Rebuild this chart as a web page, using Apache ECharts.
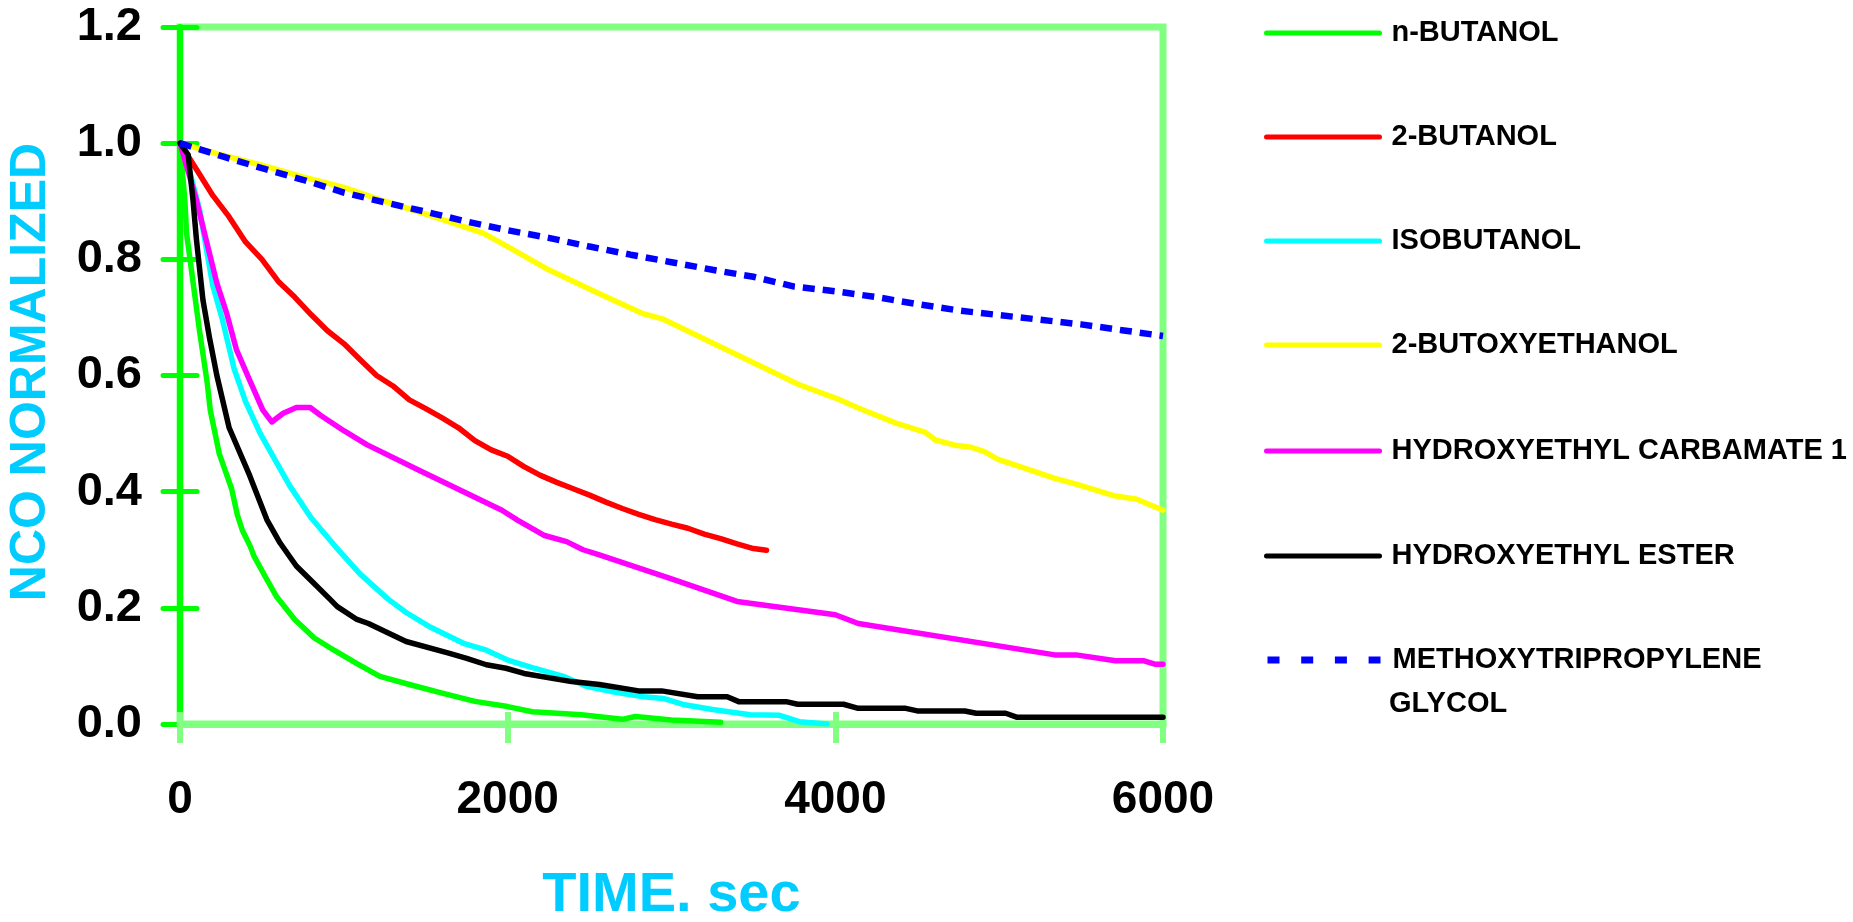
<!DOCTYPE html>
<html>
<head>
<meta charset="utf-8">
<script src="https://cdn.jsdelivr.net/npm/echarts@6.0.0/dist/echarts.min.js"></script>
<style>html,body{margin:0;padding:0;background:#fff}#c{width:1853px;height:922px}</style>
</head>
<body>
<div id="c"></div>
<script>
// ---- data ----
const seriesNames = ['n-BUTANOL','2-BUTANOL','ISOBUTANOL','2-BUTOXYETHANOL','HYDROXYETHYL CARBAMATE 1','HYDROXYETHYL ESTER','METHOXYTRIPROPYLENE GLYCOL'];
const seriesColors = ['#00ff00','#ff0000','#00ffff','#ffff00','#ff00ff','#000000','#0000ff'];

const nButanolT = [0,30,40,80,120,165,185,240,315,350,380,430,450,520,590,700,820,940,1080,1220,1400,1600,1800,2000,2150,2450,2700,2780,3000,3300];
const nButanolY = [1.0,0.9,0.845,0.76,0.675,0.59,0.54,0.465,0.405,0.36,0.334,0.305,0.29,0.254,0.219,0.18,0.148,0.127,0.104,0.082,0.068,0.053,0.039,0.03,0.021,0.016,0.008,0.013,0.007,0.003];

const butanol2T = [0,100,200,300,400,500,600,700,800,900,1000,1100,1200,1300,1400,1500,1600,1700,1800,1900,2000,2100,2200,2300,2400,2500,2600,2700,2800,2900,3000,3100,3200,3300,3400,3500,3580];
const butanol2Y = [1.0,0.955,0.91,0.873,0.83,0.8,0.762,0.735,0.705,0.677,0.655,0.627,0.6,0.582,0.558,0.543,0.527,0.51,0.488,0.472,0.461,0.443,0.428,0.416,0.405,0.394,0.382,0.371,0.361,0.352,0.344,0.337,0.327,0.319,0.31,0.302,0.299];

const isobutanolT = [0,60,120,200,260,330,400,490,600,670,800,950,1100,1270,1380,1520,1730,1870,2000,2150,2340,2480,2650,2830,2950,3080,3250,3480,3660,3780,3950];
const isobutanolY = [1.0,0.95,0.885,0.755,0.695,0.612,0.555,0.5,0.445,0.41,0.355,0.305,0.258,0.215,0.192,0.168,0.139,0.127,0.11,0.097,0.082,0.065,0.055,0.047,0.044,0.033,0.025,0.016,0.015,0.004,0.0];

const butoxyT = [0,250,500,750,1000,1250,1500,1650,1850,2000,2250,2550,2820,2950,3250,3500,3780,4030,4140,4370,4550,4610,4730,4820,4910,4990,5340,5470,5700,5840,6000];
const butoxyY = [1.0,0.98,0.962,0.942,0.924,0.9,0.878,0.864,0.845,0.822,0.782,0.742,0.707,0.697,0.656,0.622,0.584,0.558,0.544,0.518,0.502,0.489,0.48,0.477,0.469,0.456,0.423,0.413,0.393,0.387,0.368];

const carbamateT = [0,100,160,225,285,345,425,505,560,630,710,795,855,1000,1140,1465,1965,2060,2220,2360,2460,2560,3000,3400,4000,4140,5340,5470,5710,5880,5950,6000];
const carbamateY = [1.0,0.902,0.833,0.759,0.707,0.644,0.592,0.541,0.52,0.535,0.545,0.545,0.532,0.505,0.481,0.436,0.368,0.351,0.325,0.314,0.3,0.291,0.25,0.211,0.188,0.173,0.119,0.119,0.109,0.109,0.103,0.103];

const esterT = [0,50,80,100,140,180,225,300,425,530,610,710,800,915,960,1080,1150,1380,1640,1750,1870,1990,2100,2390,2560,2800,2940,3160,3340,3410,3700,3770,4050,4140,4430,4500,4790,4860,5040,5110,6000];
const esterY = [1.0,0.98,0.9,0.835,0.73,0.665,0.6,0.51,0.428,0.352,0.312,0.272,0.247,0.215,0.202,0.18,0.173,0.142,0.122,0.113,0.102,0.096,0.087,0.073,0.068,0.057,0.057,0.047,0.047,0.0385,0.0385,0.034,0.034,0.027,0.027,0.0225,0.0225,0.0185,0.0185,0.0115,0.0115];

const glycolT = [0,250,500,750,1000,1250,1500,1750,2000,2250,2500,2750,3000,3250,3500,3750,4000,4250,4500,4750,5000,5250,5500,5750,6000];
const glycolY = [1.0,0.978,0.957,0.937,0.915,0.898,0.882,0.865,0.85,0.837,0.822,0.808,0.795,0.782,0.77,0.753,0.745,0.735,0.723,0.712,0.704,0.696,0.688,0.678,0.668];

const xTickLabels = ['0','2000','4000','6000'];
const yTickLabels = ['0.0','0.2','0.4','0.6','0.8','1.0','1.2'];
const xTitle = 'TIME. sec';
const yTitle = 'NCO NORMALIZED';
const legendLabels = ['n-BUTANOL','2-BUTANOL','ISOBUTANOL','2-BUTOXYETHANOL','HYDROXYETHYL CARBAMATE 1','HYDROXYETHYL ESTER','METHOXYTRIPROPYLENE'];
const legendSecondLine = 'GLYCOL';

// ---- build ----
const allT = [nButanolT,butanol2T,isobutanolT,butoxyT,carbamateT,esterT,glycolT];
const allY = [nButanolY,butanol2Y,isobutanolY,butoxyY,carbamateY,esterY,glycolY];
const zip = (a,b) => a.map((v,i)=>[v,b[i]]);

const FONT = '"Liberation Sans", Arial, sans-serif';
const LIGHT = '#80ff80';
const BRIGHT = '#00ff00';
const TITLE = '#00ccff';

const series = seriesNames.map((n,i)=>({
  name:n, type:'line', xAxisIndex:0, yAxisIndex:0,
  data: zip(allT[i], allY[i]),
  symbol:'none', showSymbol:false, smooth:false, z:2,
  lineStyle: i===6 ? {color:seriesColors[i], width:6.5, type:[12,8], cap:'butt'}
                   : {color:seriesColors[i], width:5.5, join:'round', cap:'round'},
  itemStyle:{color:seriesColors[i]},
  emphasis:{disabled:true}
}));

const legendCenters = [33,137,241,345,451,556,660];
const legends = seriesNames.map((n,i)=>{
  const last = i===6;
  return {
    data:[n], left:1264, top: legendCenters[i]-15,
    orient:'vertical', padding:0, itemGap:0, itemWidth:113, itemHeight:14,
    selectedMode:false,
    formatter: ()=>legendLabels[i],
    itemStyle:{opacity:0},
    lineStyle: last ? {width:7, type:[12,21.7], cap:'butt', opacity:1} : {width:5, cap:'round', opacity:1},
    textStyle:{fontFamily:FONT, fontWeight:'bold', fontSize:29, color:'#000',
      lineHeight:30, padding:[0,0,0,7]}
  };
});

const yLabelFmt = (v)=> yTickLabels[Math.round(v/0.2)];
const xLabelFmt = (v)=> xTickLabels[Math.round(v/2000)];

const option = {
  animation:false,
  backgroundColor:'#fff',
  grid:{left:180, right:690, top:27, bottom:198, containLabel:false, outerBoundsMode:'none',
        show:true, borderColor:LIGHT, borderWidth:7, backgroundColor:'transparent'},
  legend: legends,
  xAxis:[
    {type:'value', min:0, max:6000, interval:2000, position:'bottom', z:1,
     axisLine:{show:true, onZero:false, lineStyle:{color:LIGHT, width:7}},
     axisTick:{show:true, inside:false, length:19, lineStyle:{color:LIGHT, width:6}},
     axisLabel:{margin:53, fontSize:46, fontWeight:'bold', color:'#000', fontFamily:FONT, formatter:xLabelFmt},
     splitLine:{show:false},
     name:xTitle, nameLocation:'middle', nameGap:144,
     nameTextStyle:{color:TITLE, fontSize:56, fontWeight:'bold', fontFamily:FONT}},
    {type:'value', min:0, max:6000, interval:2000, position:'bottom', z:1,
     axisLine:{show:false, onZero:false},
     axisTick:{show:true, inside:true, length:12, lineStyle:{color:LIGHT, width:6}},
     axisLabel:{show:false}, splitLine:{show:false}}
  ],
  yAxis:[
    {type:'value', min:0, max:1.2, interval:0.2, position:'left', z:0,
     axisLine:{show:true, lineStyle:{color:BRIGHT, width:6}},
     axisTick:{show:true, inside:false, length:17, lineStyle:{color:BRIGHT, width:5, cap:'round'}},
     axisLabel:{margin:38, fontSize:47, fontWeight:'bold', color:'#000', fontFamily:FONT, formatter:yLabelFmt},
     splitLine:{show:false}},
    {type:'value', min:0, max:1.2, interval:0.2, position:'left', offset:0, z:0,
     axisLine:{show:false},
     axisTick:{show:true, inside:true, length:17, lineStyle:{color:BRIGHT, width:5, cap:'round'}},
     axisLabel:{show:false}, splitLine:{show:false}}
  ],
  graphic:[
    {type:'text', x:31, y:372, rotation:Math.PI/2, z:10,
     style:{text:yTitle, fill:TITLE, fontSize:50, fontWeight:'bold', fontFamily:FONT, align:'center', verticalAlign:'middle'}},
    {type:'text', x:1389, y:704, z:10,
     style:{text:legendSecondLine, fill:'#000', fontSize:29, fontWeight:'bold', fontFamily:FONT, align:'left', verticalAlign:'middle'}}
  ],
  series: series
};

const chart = echarts.init(document.getElementById('c'), null, {renderer:'canvas'});
chart.setOption(option);
</script>
</body>
</html>
